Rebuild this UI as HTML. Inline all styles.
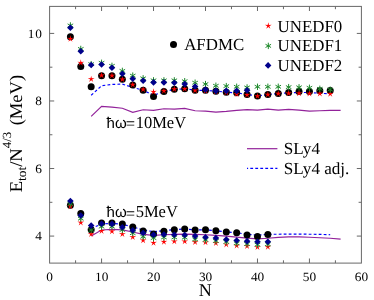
<!DOCTYPE html>
<html><head><meta charset="utf-8"><title>Energy per N^(4/3)</title>
<style>
html,body{margin:0;padding:0;background:#fff;}
body{width:374px;height:300px;overflow:hidden;}
svg{display:block;will-change:transform;}
text{font-family:"Liberation Serif",serif;fill:#000;text-rendering:geometricPrecision;}
</style></head><body>
<svg width="374" height="300" viewBox="0 0 374 300">
<rect width="374" height="300" fill="#fff"/>
<rect x="49.6" y="6.4" width="311.8" height="256.7" fill="none" stroke="#686868" stroke-width="1"/>
<path d="M75.58 263.1v-2.8M75.58 6.4v2.8M101.57 263.1v-4.6M101.57 6.4v4.6M127.55 263.1v-2.8M127.55 6.4v2.8M153.53 263.1v-4.6M153.53 6.4v4.6M179.52 263.1v-2.8M179.52 6.4v2.8M205.5 263.1v-4.6M205.5 6.4v4.6M231.48 263.1v-2.8M231.48 6.4v2.8M257.47 263.1v-4.6M257.47 6.4v4.6M283.45 263.1v-2.8M283.45 6.4v2.8M309.43 263.1v-4.6M309.43 6.4v4.6M335.42 263.1v-2.8M335.42 6.4v2.8M49.6 236.08h4.6M361.4 236.08h-4.6M49.6 202.3h2.8M361.4 202.3h-2.8M49.6 168.53h4.6M361.4 168.53h-4.6M49.6 134.75h2.8M361.4 134.75h-2.8M49.6 100.97h4.6M361.4 100.97h-4.6M49.6 67.2h2.8M361.4 67.2h-2.8M49.6 33.42h4.6M361.4 33.42h-4.6" stroke="#686868" stroke-width="1" fill="none"/>
<polyline points="91.17,116.38 101.57,106.38 111.96,107.15 122.35,108.24 132.75,112.29 143.14,109.76 153.53,110.43 163.93,108.74 174.32,109.08 184.71,108.4 195.11,110.77 205.5,111.11 215.89,112.12 226.29,111.44 236.68,110.43 247.07,109.59 257.47,110.09 267.86,109.08 278.25,110.09 288.65,109.42 299.04,110.09 309.43,111.11 319.83,110.77 330.22,110.43 340.61,110.43" fill="none" stroke="#92229a" stroke-width="1.2"/>
<polyline points="91.17,236.08 101.57,230 111.96,229.32 122.35,229.83 132.75,232.03 143.14,234.39 153.53,235.4 163.93,234.73 174.32,234.39 184.71,234.05 195.11,234.39 205.5,234.73 215.89,235.4 226.29,236.08 236.68,237.09 247.07,238.11 257.47,238.78 267.86,238.27 278.25,237.43 288.65,236.92 299.04,236.92 309.43,237.26 319.83,237.77 330.22,238.27 340.61,239.12" fill="none" stroke="#92229a" stroke-width="1.2"/>
<polyline points="91.17,95.23 101.57,85.77 111.96,84.42 122.35,84.09 132.75,87.46 143.14,90.17 153.53,95.23 163.93,91.52 174.32,89.49 184.71,88.81 195.11,90.17 205.5,90.5 215.89,91.18 226.29,92.19 236.68,92.87 247.07,94.56 257.47,95.91 267.86,94.56 278.25,93.54 288.65,92.87 299.04,92.53 309.43,92.53 319.83,93.21 330.22,93.88" fill="none" stroke="#0000ff" stroke-width="1.15" stroke-dasharray="2.8 2.2"/>
<polyline points="91.17,228.65 101.57,223.92 111.96,223.41 122.35,224.26 132.75,226.96 143.14,230 153.53,231.69 163.93,230.67 174.32,229.66 184.71,228.99 195.11,230 205.5,229.83 215.89,230.67 226.29,232.03 236.68,232.7 247.07,234.39 257.47,235.07 267.86,234.39 278.25,234.22 288.65,234.05 299.04,234.05 309.43,234.22 319.83,234.39 330.22,234.73" fill="none" stroke="#0000ff" stroke-width="1.15" stroke-dasharray="2.8 2.2"/>
<circle cx="70.39" cy="36.8" r="3.5" fill="#000000"/>
<circle cx="80.78" cy="66.52" r="3.5" fill="#000000"/>
<circle cx="91.17" cy="86.79" r="3.5" fill="#000000"/>
<circle cx="101.57" cy="75.64" r="3.5" fill="#000000"/>
<circle cx="111.96" cy="75.64" r="3.5" fill="#000000"/>
<circle cx="122.35" cy="79.36" r="3.5" fill="#000000"/>
<circle cx="132.75" cy="85.1" r="3.5" fill="#000000"/>
<circle cx="143.14" cy="90.17" r="3.5" fill="#000000"/>
<circle cx="153.53" cy="96.41" r="3.5" fill="#000000"/>
<circle cx="163.93" cy="91.52" r="3.5" fill="#000000"/>
<circle cx="174.32" cy="89.15" r="3.5" fill="#000000"/>
<circle cx="184.71" cy="88.81" r="3.5" fill="#000000"/>
<circle cx="195.11" cy="90.17" r="3.5" fill="#000000"/>
<circle cx="205.5" cy="90.17" r="3.5" fill="#000000"/>
<circle cx="215.89" cy="91.18" r="3.5" fill="#000000"/>
<circle cx="226.29" cy="92.19" r="3.5" fill="#000000"/>
<circle cx="236.68" cy="92.87" r="3.5" fill="#000000"/>
<circle cx="247.07" cy="94.56" r="3.5" fill="#000000"/>
<circle cx="257.47" cy="95.91" r="3.5" fill="#000000"/>
<circle cx="267.86" cy="94.56" r="3.5" fill="#000000"/>
<circle cx="278.25" cy="93.54" r="3.5" fill="#000000"/>
<circle cx="288.65" cy="92.53" r="3.5" fill="#000000"/>
<circle cx="299.04" cy="91.52" r="3.5" fill="#000000"/>
<circle cx="309.43" cy="91.52" r="3.5" fill="#000000"/>
<circle cx="319.83" cy="90.84" r="3.5" fill="#000000"/>
<circle cx="330.22" cy="90.5" r="3.5" fill="#000000"/>
<circle cx="70.39" cy="205.34" r="3.5" fill="#000000"/>
<circle cx="80.78" cy="213.45" r="3.5" fill="#000000"/>
<circle cx="91.17" cy="229.76" r="3.5" fill="#000000"/>
<circle cx="101.57" cy="223.08" r="3.5" fill="#000000"/>
<circle cx="111.96" cy="223.08" r="3.5" fill="#000000"/>
<circle cx="122.35" cy="223.92" r="3.5" fill="#000000"/>
<circle cx="132.75" cy="226.96" r="3.5" fill="#000000"/>
<circle cx="143.14" cy="231.01" r="3.5" fill="#000000"/>
<circle cx="153.53" cy="234.05" r="3.5" fill="#000000"/>
<circle cx="163.93" cy="231.35" r="3.5" fill="#000000"/>
<circle cx="174.32" cy="229.66" r="3.5" fill="#000000"/>
<circle cx="184.71" cy="228.99" r="3.5" fill="#000000"/>
<circle cx="195.11" cy="230" r="3.5" fill="#000000"/>
<circle cx="205.5" cy="229.83" r="3.5" fill="#000000"/>
<circle cx="215.89" cy="230.67" r="3.5" fill="#000000"/>
<circle cx="226.29" cy="232.03" r="3.5" fill="#000000"/>
<circle cx="236.68" cy="232.7" r="3.5" fill="#000000"/>
<circle cx="247.07" cy="235.07" r="3.5" fill="#000000"/>
<circle cx="257.47" cy="236.42" r="3.5" fill="#000000"/>
<circle cx="267.86" cy="234.39" r="3.5" fill="#000000"/>
<polygon points="70.39,35.28 71.03,37.94 73.76,37.73 71.43,39.17 72.47,41.7 70.39,39.93 68.3,41.7 69.34,39.17 67.01,37.73 69.74,37.94" fill="#ff0000"/>
<polygon points="80.78,59.26 81.43,61.92 84.16,61.71 81.83,63.15 82.87,65.68 80.78,63.91 78.69,65.68 79.73,63.15 77.4,61.71 80.13,61.92" fill="#ff0000"/>
<polygon points="91.17,75.64 91.82,78.3 94.55,78.09 92.22,79.53 93.26,82.06 91.17,80.29 89.09,82.06 90.13,79.53 87.8,78.09 90.53,78.3" fill="#ff0000"/>
<polygon points="101.57,71.75 102.21,74.41 104.94,74.21 102.61,75.64 103.65,78.18 101.57,76.4 99.48,78.18 100.52,75.64 98.19,74.21 100.92,74.41" fill="#ff0000"/>
<polygon points="111.96,72.09 112.61,74.75 115.34,74.54 113.01,75.98 114.05,78.51 111.96,76.74 109.87,78.51 110.91,75.98 108.58,74.54 111.31,74.75" fill="#ff0000"/>
<polygon points="122.35,75.81 123,78.47 125.73,78.26 123.4,79.7 124.44,82.23 122.35,80.46 120.27,82.23 121.31,79.7 118.98,78.26 121.71,78.47" fill="#ff0000"/>
<polygon points="132.75,81.21 133.39,83.87 136.12,83.66 133.79,85.1 134.83,87.63 132.75,85.86 130.66,87.63 131.7,85.1 129.37,83.66 132.1,83.87" fill="#ff0000"/>
<polygon points="143.14,85.94 143.79,88.6 146.52,88.39 144.19,89.83 145.23,92.36 143.14,90.59 141.05,92.36 142.09,89.83 139.76,88.39 142.49,88.6" fill="#ff0000"/>
<polygon points="153.53,88.3 154.18,90.96 156.91,90.76 154.58,92.19 155.62,94.73 153.53,92.95 151.45,94.73 152.49,92.19 150.16,90.76 152.89,90.96" fill="#ff0000"/>
<polygon points="163.93,87.29 164.57,89.95 167.3,89.74 164.97,91.18 166.01,93.71 163.93,91.94 161.84,93.71 162.88,91.18 160.55,89.74 163.28,89.95" fill="#ff0000"/>
<polygon points="174.32,85.6 174.97,88.26 177.7,88.05 175.37,89.49 176.41,92.02 174.32,90.25 172.23,92.02 173.27,89.49 170.94,88.05 173.67,88.26" fill="#ff0000"/>
<polygon points="184.71,85.26 185.36,87.92 188.09,87.72 185.76,89.15 186.8,91.69 184.71,89.91 182.63,91.69 183.67,89.15 181.34,87.72 184.07,87.92" fill="#ff0000"/>
<polygon points="195.11,86.95 195.75,89.61 198.48,89.41 196.15,90.84 197.19,93.38 195.11,91.6 193.02,93.38 194.06,90.84 191.73,89.41 194.46,89.61" fill="#ff0000"/>
<polygon points="205.5,87.29 206.15,89.95 208.88,89.74 206.55,91.18 207.59,93.71 205.5,91.94 203.41,93.71 204.45,91.18 202.12,89.74 204.85,89.95" fill="#ff0000"/>
<polygon points="215.89,87.97 216.54,90.63 219.27,90.42 216.94,91.86 217.98,94.39 215.89,92.62 213.81,94.39 214.85,91.86 212.52,90.42 215.25,90.63" fill="#ff0000"/>
<polygon points="226.29,88.98 226.93,91.64 229.66,91.43 227.33,92.87 228.37,95.4 226.29,93.63 224.2,95.4 225.24,92.87 222.91,91.43 225.64,91.64" fill="#ff0000"/>
<polygon points="236.68,90.67 237.33,93.33 240.06,93.12 237.73,94.56 238.77,97.09 236.68,95.32 234.59,97.09 235.63,94.56 233.3,93.12 236.03,93.33" fill="#ff0000"/>
<polygon points="247.07,91.34 247.72,94 250.45,93.8 248.12,95.23 249.16,97.77 247.07,95.99 244.99,97.77 246.03,95.23 243.7,93.8 246.43,94" fill="#ff0000"/>
<polygon points="257.47,92.69 258.11,95.36 260.84,95.15 258.51,96.58 259.55,99.12 257.47,97.34 255.38,99.12 256.42,96.58 254.09,95.15 256.82,95.36" fill="#ff0000"/>
<polygon points="267.86,91.01 268.51,93.67 271.24,93.46 268.91,94.9 269.95,97.43 267.86,95.66 265.77,97.43 266.81,94.9 264.48,93.46 267.21,93.67" fill="#ff0000"/>
<polygon points="278.25,90.16 278.9,92.82 281.63,92.61 279.3,94.05 280.34,96.58 278.25,94.81 276.17,96.58 277.21,94.05 274.88,92.61 277.61,92.82" fill="#ff0000"/>
<polygon points="288.65,89.82 289.29,92.48 292.02,92.28 289.69,93.71 290.73,96.25 288.65,94.47 286.56,96.25 287.6,93.71 285.27,92.28 288,92.48" fill="#ff0000"/>
<polygon points="299.04,89.82 299.69,92.48 302.42,92.28 300.09,93.71 301.13,96.25 299.04,94.47 296.95,96.25 297.99,93.71 295.66,92.28 298.39,92.48" fill="#ff0000"/>
<polygon points="309.43,89.99 310.08,92.65 312.81,92.45 310.48,93.88 311.52,96.41 309.43,94.64 307.35,96.41 308.39,93.88 306.06,92.45 308.79,92.65" fill="#ff0000"/>
<polygon points="319.83,89.99 320.47,92.65 323.2,92.45 320.87,93.88 321.91,96.41 319.83,94.64 317.74,96.41 318.78,93.88 316.45,92.45 319.18,92.65" fill="#ff0000"/>
<polygon points="330.22,90.33 330.87,92.99 333.6,92.78 331.27,94.22 332.31,96.75 330.22,94.98 328.13,96.75 329.17,94.22 326.84,92.78 329.57,92.99" fill="#ff0000"/>
<polygon points="70.39,202.81 71.03,205.47 73.76,205.26 71.43,206.7 72.47,209.23 70.39,207.46 68.3,209.23 69.34,206.7 67.01,205.26 69.74,205.47" fill="#ff0000"/>
<polygon points="80.78,219.02 81.43,221.68 84.16,221.47 81.83,222.91 82.87,225.44 80.78,223.67 78.69,225.44 79.73,222.91 77.4,221.47 80.13,221.68" fill="#ff0000"/>
<polygon points="91.17,230.5 91.82,233.16 94.55,232.96 92.22,234.39 93.26,236.92 91.17,235.15 89.09,236.92 90.13,234.39 87.8,232.96 90.53,233.16" fill="#ff0000"/>
<polygon points="101.57,227.46 102.21,230.12 104.94,229.92 102.61,231.35 103.65,233.88 101.57,232.11 99.48,233.88 100.52,231.35 98.19,229.92 100.92,230.12" fill="#ff0000"/>
<polygon points="111.96,227.8 112.61,230.46 115.34,230.25 113.01,231.69 114.05,234.22 111.96,232.45 109.87,234.22 110.91,231.69 108.58,230.25 111.31,230.46" fill="#ff0000"/>
<polygon points="122.35,230.67 123,233.33 125.73,233.12 123.4,234.56 124.44,237.09 122.35,235.32 120.27,237.09 121.31,234.56 118.98,233.12 121.71,233.33" fill="#ff0000"/>
<polygon points="132.75,233.54 133.39,236.2 136.12,236 133.79,237.43 134.83,239.96 132.75,238.19 130.66,239.96 131.7,237.43 129.37,236 132.1,236.2" fill="#ff0000"/>
<polygon points="143.14,236.92 143.79,239.58 146.52,239.37 144.19,240.81 145.23,243.34 143.14,241.57 141.05,243.34 142.09,240.81 139.76,239.37 142.49,239.58" fill="#ff0000"/>
<polygon points="153.53,239.28 154.18,241.94 156.91,241.74 154.58,243.17 155.62,245.71 153.53,243.93 151.45,245.71 152.49,243.17 150.16,241.74 152.89,241.94" fill="#ff0000"/>
<polygon points="163.93,238.27 164.57,240.93 167.3,240.72 164.97,242.16 166.01,244.69 163.93,242.92 161.84,244.69 162.88,242.16 160.55,240.72 163.28,240.93" fill="#ff0000"/>
<polygon points="174.32,237.93 174.97,240.59 177.7,240.39 175.37,241.82 176.41,244.36 174.32,242.58 172.23,244.36 173.27,241.82 170.94,240.39 173.67,240.59" fill="#ff0000"/>
<polygon points="184.71,237.93 185.36,240.59 188.09,240.39 185.76,241.82 186.8,244.36 184.71,242.58 182.63,244.36 183.67,241.82 181.34,240.39 184.07,240.59" fill="#ff0000"/>
<polygon points="195.11,238.61 195.75,241.27 198.48,241.06 196.15,242.5 197.19,245.03 195.11,243.26 193.02,245.03 194.06,242.5 191.73,241.06 194.46,241.27" fill="#ff0000"/>
<polygon points="205.5,238.95 206.15,241.61 208.88,241.4 206.55,242.84 207.59,245.37 205.5,243.6 203.41,245.37 204.45,242.84 202.12,241.4 204.85,241.61" fill="#ff0000"/>
<polygon points="215.89,239.62 216.54,242.28 219.27,242.07 216.94,243.51 217.98,246.04 215.89,244.27 213.81,246.04 214.85,243.51 212.52,242.07 215.25,242.28" fill="#ff0000"/>
<polygon points="226.29,240.97 226.93,243.63 229.66,243.43 227.33,244.86 228.37,247.4 226.29,245.62 224.2,247.4 225.24,244.86 222.91,243.43 225.64,243.63" fill="#ff0000"/>
<polygon points="236.68,241.99 237.33,244.65 240.06,244.44 237.73,245.88 238.77,248.41 236.68,246.64 234.59,248.41 235.63,245.88 233.3,244.44 236.03,244.65" fill="#ff0000"/>
<polygon points="247.07,242.66 247.72,245.32 250.45,245.11 248.12,246.55 249.16,249.08 247.07,247.31 244.99,249.08 246.03,246.55 243.7,245.11 246.43,245.32" fill="#ff0000"/>
<polygon points="257.47,243.68 258.11,246.34 260.84,246.13 258.51,247.57 259.55,250.1 257.47,248.33 255.38,250.1 256.42,247.57 254.09,246.13 256.82,246.34" fill="#ff0000"/>
<polygon points="267.86,243.34 268.51,246 271.24,245.79 268.91,247.23 269.95,249.76 267.86,247.99 265.77,249.76 266.81,247.23 264.48,245.79 267.21,246" fill="#ff0000"/>
<path d="M70.39 22.28L70.39 28.68M67.62 23.88L73.16 27.08M73.16 23.88L67.62 27.08" stroke="#1f8a2c" stroke-width="1.0" fill="none"/>
<path d="M80.78 45.76L80.78 52.16M78.01 47.36L83.55 50.56M83.55 47.36L78.01 50.56" stroke="#1f8a2c" stroke-width="1.0" fill="none"/>
<path d="M91.17 60.96L91.17 67.36M88.4 62.56L93.94 65.76M93.94 62.56L88.4 65.76" stroke="#1f8a2c" stroke-width="1.0" fill="none"/>
<path d="M101.57 59.61L101.57 66.01M98.8 61.21L104.34 64.41M104.34 61.21L98.8 64.41" stroke="#1f8a2c" stroke-width="1.0" fill="none"/>
<path d="M111.96 62.65L111.96 69.05M109.19 64.25L114.73 67.45M114.73 64.25L109.19 67.45" stroke="#1f8a2c" stroke-width="1.0" fill="none"/>
<path d="M122.35 67.71L122.35 74.11M119.58 69.31L125.12 72.51M125.12 69.31L119.58 72.51" stroke="#1f8a2c" stroke-width="1.0" fill="none"/>
<path d="M132.75 72.44L132.75 78.84M129.98 74.04L135.52 77.24M135.52 74.04L129.98 77.24" stroke="#1f8a2c" stroke-width="1.0" fill="none"/>
<path d="M143.14 75.14L143.14 81.54M140.37 76.74L145.91 79.94M145.91 76.74L140.37 79.94" stroke="#1f8a2c" stroke-width="1.0" fill="none"/>
<path d="M153.53 77.17L153.53 83.57M150.76 78.77L156.3 81.97M156.3 78.77L150.76 81.97" stroke="#1f8a2c" stroke-width="1.0" fill="none"/>
<path d="M163.93 77.17L163.93 83.57M161.16 78.77L166.7 81.97M166.7 78.77L161.16 81.97" stroke="#1f8a2c" stroke-width="1.0" fill="none"/>
<path d="M174.32 77.17L174.32 83.57M171.55 78.77L177.09 81.97M177.09 78.77L171.55 81.97" stroke="#1f8a2c" stroke-width="1.0" fill="none"/>
<path d="M184.71 78.01L184.71 84.41M181.94 79.61L187.48 82.81M187.48 79.61L181.94 82.81" stroke="#1f8a2c" stroke-width="1.0" fill="none"/>
<path d="M195.11 79.53L195.11 85.93M192.34 81.13L197.88 84.33M197.88 81.13L192.34 84.33" stroke="#1f8a2c" stroke-width="1.0" fill="none"/>
<path d="M205.5 80.89L205.5 87.29M202.73 82.49L208.27 85.69M208.27 82.49L202.73 85.69" stroke="#1f8a2c" stroke-width="1.0" fill="none"/>
<path d="M215.89 82.57L215.89 88.97M213.12 84.17L218.66 87.37M218.66 84.17L213.12 87.37" stroke="#1f8a2c" stroke-width="1.0" fill="none"/>
<path d="M226.29 82.91L226.29 89.31M223.52 84.51L229.06 87.71M229.06 84.51L223.52 87.71" stroke="#1f8a2c" stroke-width="1.0" fill="none"/>
<path d="M236.68 83.59L236.68 89.99M233.91 85.19L239.45 88.39M239.45 85.19L233.91 88.39" stroke="#1f8a2c" stroke-width="1.0" fill="none"/>
<path d="M247.07 84.26L247.07 90.66M244.3 85.86L249.84 89.06M249.84 85.86L244.3 89.06" stroke="#1f8a2c" stroke-width="1.0" fill="none"/>
<path d="M257.47 83.59L257.47 89.99M254.7 85.19L260.24 88.39M260.24 85.19L254.7 88.39" stroke="#1f8a2c" stroke-width="1.0" fill="none"/>
<path d="M267.86 83.59L267.86 89.99M265.09 85.19L270.63 88.39M270.63 85.19L265.09 88.39" stroke="#1f8a2c" stroke-width="1.0" fill="none"/>
<path d="M278.25 83.59L278.25 89.99M275.48 85.19L281.02 88.39M281.02 85.19L275.48 88.39" stroke="#1f8a2c" stroke-width="1.0" fill="none"/>
<path d="M288.65 83.93L288.65 90.33M285.88 85.53L291.42 88.73M291.42 85.53L285.88 88.73" stroke="#1f8a2c" stroke-width="1.0" fill="none"/>
<path d="M299.04 84.09L299.04 90.49M296.27 85.69L301.81 88.89M301.81 85.69L296.27 88.89" stroke="#1f8a2c" stroke-width="1.0" fill="none"/>
<path d="M309.43 84.6L309.43 91M306.66 86.2L312.2 89.4M312.2 86.2L306.66 89.4" stroke="#1f8a2c" stroke-width="1.0" fill="none"/>
<path d="M319.83 85.61L319.83 92.01M317.06 87.21L322.6 90.41M322.6 87.21L317.06 90.41" stroke="#1f8a2c" stroke-width="1.0" fill="none"/>
<path d="M330.22 86.46L330.22 92.86M327.45 88.06L332.99 91.26M332.99 88.06L327.45 91.26" stroke="#1f8a2c" stroke-width="1.0" fill="none"/>
<path d="M70.39 200.79L70.39 207.19M67.62 202.39L73.16 205.59M73.16 202.39L67.62 205.59" stroke="#1f8a2c" stroke-width="1.0" fill="none"/>
<path d="M80.78 215.48L80.78 221.88M78.01 217.08L83.55 220.28M83.55 217.08L78.01 220.28" stroke="#1f8a2c" stroke-width="1.0" fill="none"/>
<path d="M91.17 226.8L91.17 233.2M88.4 228.4L93.94 231.6M93.94 228.4L88.4 231.6" stroke="#1f8a2c" stroke-width="1.0" fill="none"/>
<path d="M101.57 223.42L101.57 229.82M98.8 225.02L104.34 228.22M104.34 225.02L98.8 228.22" stroke="#1f8a2c" stroke-width="1.0" fill="none"/>
<path d="M111.96 223.42L111.96 229.82M109.19 225.02L114.73 228.22M114.73 225.02L109.19 228.22" stroke="#1f8a2c" stroke-width="1.0" fill="none"/>
<path d="M122.35 226.8L122.35 233.2M119.58 228.4L125.12 231.6M125.12 228.4L119.58 231.6" stroke="#1f8a2c" stroke-width="1.0" fill="none"/>
<path d="M132.75 230.01L132.75 236.41M129.98 231.61L135.52 234.81M135.52 231.61L129.98 234.81" stroke="#1f8a2c" stroke-width="1.0" fill="none"/>
<path d="M143.14 233.55L143.14 239.95M140.37 235.15L145.91 238.35M145.91 235.15L140.37 238.35" stroke="#1f8a2c" stroke-width="1.0" fill="none"/>
<path d="M153.53 234.91L153.53 241.31M150.76 236.51L156.3 239.71M156.3 236.51L150.76 239.71" stroke="#1f8a2c" stroke-width="1.0" fill="none"/>
<path d="M163.93 234.23L163.93 240.63M161.16 235.83L166.7 239.03M166.7 235.83L161.16 239.03" stroke="#1f8a2c" stroke-width="1.0" fill="none"/>
<path d="M174.32 234.23L174.32 240.63M171.55 235.83L177.09 239.03M177.09 235.83L171.55 239.03" stroke="#1f8a2c" stroke-width="1.0" fill="none"/>
<path d="M184.71 234.4L184.71 240.8M181.94 236L187.48 239.2M187.48 236L181.94 239.2" stroke="#1f8a2c" stroke-width="1.0" fill="none"/>
<path d="M195.11 236.09L195.11 242.49M192.34 237.69L197.88 240.89M197.88 237.69L192.34 240.89" stroke="#1f8a2c" stroke-width="1.0" fill="none"/>
<path d="M205.5 236.76L205.5 243.16M202.73 238.36L208.27 241.56M208.27 238.36L202.73 241.56" stroke="#1f8a2c" stroke-width="1.0" fill="none"/>
<path d="M215.89 237.78L215.89 244.18M213.12 239.38L218.66 242.58M218.66 239.38L213.12 242.58" stroke="#1f8a2c" stroke-width="1.0" fill="none"/>
<path d="M226.29 238.79L226.29 245.19M223.52 240.39L229.06 243.59M229.06 240.39L223.52 243.59" stroke="#1f8a2c" stroke-width="1.0" fill="none"/>
<path d="M236.68 240.14L236.68 246.54M233.91 241.74L239.45 244.94M239.45 241.74L233.91 244.94" stroke="#1f8a2c" stroke-width="1.0" fill="none"/>
<path d="M247.07 240.82L247.07 247.22M244.3 242.42L249.84 245.62M249.84 242.42L244.3 245.62" stroke="#1f8a2c" stroke-width="1.0" fill="none"/>
<path d="M257.47 241.49L257.47 247.89M254.7 243.09L260.24 246.29M260.24 243.09L254.7 246.29" stroke="#1f8a2c" stroke-width="1.0" fill="none"/>
<path d="M267.86 240.99L267.86 247.39M265.09 242.59L270.63 245.79M270.63 242.59L265.09 245.79" stroke="#1f8a2c" stroke-width="1.0" fill="none"/>
<polygon points="70.39,24.38 73.69,27.68 70.39,30.98 67.09,27.68" fill="#00008b"/>
<polygon points="80.78,48.02 84.08,51.32 80.78,54.62 77.48,51.32" fill="#00008b"/>
<polygon points="91.17,61.7 94.47,65 91.17,68.3 87.87,65" fill="#00008b"/>
<polygon points="101.57,61.2 104.87,64.5 101.57,67.8 98.27,64.5" fill="#00008b"/>
<polygon points="111.96,64.4 115.26,67.7 111.96,71 108.66,67.7" fill="#00008b"/>
<polygon points="122.35,70.48 125.65,73.78 122.35,77.08 119.05,73.78" fill="#00008b"/>
<polygon points="132.75,75.38 136.05,78.68 132.75,81.98 129.45,78.68" fill="#00008b"/>
<polygon points="143.14,77.41 146.44,80.71 143.14,84.01 139.84,80.71" fill="#00008b"/>
<polygon points="153.53,79.1 156.83,82.4 153.53,85.7 150.23,82.4" fill="#00008b"/>
<polygon points="163.93,79.1 167.23,82.4 163.93,85.7 160.63,82.4" fill="#00008b"/>
<polygon points="174.32,79.43 177.62,82.73 174.32,86.03 171.02,82.73" fill="#00008b"/>
<polygon points="184.71,80.79 188.01,84.09 184.71,87.39 181.41,84.09" fill="#00008b"/>
<polygon points="195.11,83.15 198.41,86.45 195.11,89.75 191.81,86.45" fill="#00008b"/>
<polygon points="205.5,86.19 208.8,89.49 205.5,92.79 202.2,89.49" fill="#00008b"/>
<polygon points="215.89,87.54 219.19,90.84 215.89,94.14 212.59,90.84" fill="#00008b"/>
<polygon points="226.29,87.54 229.59,90.84 226.29,94.14 222.99,90.84" fill="#00008b"/>
<polygon points="236.68,87.54 239.98,90.84 236.68,94.14 233.38,90.84" fill="#00008b"/>
<polygon points="247.07,87.03 250.37,90.33 247.07,93.63 243.77,90.33" fill="#00008b"/>
<polygon points="70.39,197.65 73.69,200.95 70.39,204.25 67.09,200.95" fill="#00008b"/>
<polygon points="80.78,212.18 84.08,215.48 80.78,218.78 77.48,215.48" fill="#00008b"/>
<polygon points="91.17,222.31 94.47,225.61 91.17,228.91 87.87,225.61" fill="#00008b"/>
<polygon points="101.57,220.45 104.87,223.75 101.57,227.05 98.27,223.75" fill="#00008b"/>
<polygon points="111.96,220.62 115.26,223.92 111.96,227.22 108.66,223.92" fill="#00008b"/>
<polygon points="122.35,224 125.65,227.3 122.35,230.6 119.05,227.3" fill="#00008b"/>
<polygon points="132.75,227.04 136.05,230.34 132.75,233.64 129.45,230.34" fill="#00008b"/>
<polygon points="143.14,229.74 146.44,233.04 143.14,236.34 139.84,233.04" fill="#00008b"/>
<polygon points="153.53,231.43 156.83,234.73 153.53,238.03 150.23,234.73" fill="#00008b"/>
<polygon points="163.93,231.26 167.23,234.56 163.93,237.86 160.63,234.56" fill="#00008b"/>
<polygon points="174.32,231.43 177.62,234.73 174.32,238.03 171.02,234.73" fill="#00008b"/>
<polygon points="184.71,231.77 188.01,235.07 184.71,238.37 181.41,235.07" fill="#00008b"/>
<polygon points="195.11,232.78 198.41,236.08 195.11,239.38 191.81,236.08" fill="#00008b"/>
<polygon points="205.5,233.96 208.8,237.26 205.5,240.56 202.2,237.26" fill="#00008b"/>
<polygon points="215.89,234.81 219.19,238.11 215.89,241.41 212.59,238.11" fill="#00008b"/>
<polygon points="226.29,236.16 229.59,239.46 226.29,242.76 222.99,239.46" fill="#00008b"/>
<polygon points="236.68,237.17 239.98,240.47 236.68,243.77 233.38,240.47" fill="#00008b"/>
<polygon points="247.07,237.85 250.37,241.15 247.07,244.45 243.77,241.15" fill="#00008b"/>
<polygon points="257.47,238.52 260.77,241.82 257.47,245.12 254.17,241.82" fill="#00008b"/>
<polygon points="267.86,238.52 271.16,241.82 267.86,245.12 264.56,241.82" fill="#00008b"/>
<circle cx="173.5" cy="44.6" r="3.5" fill="#000000"/>
<polygon points="268.3,22.25 268.95,24.91 271.68,24.7 269.35,26.14 270.39,28.67 268.3,26.9 266.21,28.67 267.25,26.14 264.92,24.7 267.65,24.91" fill="#ff0000"/>
<path d="M268.3 42.7L268.3 49.1M265.53 44.3L271.07 47.5M271.07 44.3L265.53 47.5" stroke="#1f8a2c" stroke-width="1.0" fill="none"/>
<polygon points="268.1,62.1 271.4,65.4 268.1,68.7 264.8,65.4" fill="#00008b"/>
<path d="M247 148.7H277.4" stroke="#92229a" stroke-width="1.2"/>
<path d="M247 168.4H277.4" stroke="#0000ff" stroke-width="1.15" stroke-dasharray="2.8 2.2" stroke-dashoffset="1.7"/>
<text transform="translate(41.9 240.38) scale(1.05 1)" font-size="12.7" text-anchor="end">4</text>
<text transform="translate(41.9 172.83) scale(1.05 1)" font-size="12.7" text-anchor="end">6</text>
<text transform="translate(41.9 105.27) scale(1.05 1)" font-size="12.7" text-anchor="end">8</text>
<text transform="translate(41.9 37.72) scale(1.05 1)" font-size="12.7" text-anchor="end"><tspan letter-spacing="0.7">1</tspan>0</text>
<text transform="translate(49.7 280.9) scale(1.05 1)" font-size="12.7" text-anchor="middle">0</text>
<text transform="translate(101.67 280.9) scale(1.05 1)" font-size="12.7" text-anchor="middle">10</text>
<text transform="translate(153.63 280.9) scale(1.05 1)" font-size="12.7" text-anchor="middle">20</text>
<text transform="translate(205.6 280.9) scale(1.05 1)" font-size="12.7" text-anchor="middle">30</text>
<text transform="translate(257.57 280.9) scale(1.05 1)" font-size="12.7" text-anchor="middle">40</text>
<text transform="translate(309.53 280.9) scale(1.05 1)" font-size="12.7" text-anchor="middle">50</text>
<text transform="translate(361.5 280.9) scale(1.05 1)" font-size="12.7" text-anchor="middle">60</text>
<text transform="translate(205.3 296.4) scale(1.0 1)" font-size="18" text-anchor="middle">N</text>
<text transform="translate(184.2 49.6) scale(0.998 1)" font-size="16.9" text-anchor="start">AFDMC</text>
<text transform="translate(277.6 31.5) scale(0.998 1)" font-size="16.9" text-anchor="start">UNEDF0</text>
<text transform="translate(277.6 51.3) scale(0.998 1)" font-size="16.9" text-anchor="start">UNEDF1</text>
<text transform="translate(277.6 70.9) scale(0.998 1)" font-size="16.9" text-anchor="start">UNEDF2</text>
<text transform="translate(283.8 154.1) scale(1.013 1)" font-size="16.9" text-anchor="start">SLy4</text>
<text transform="translate(283.8 174.4) scale(1.013 1)" font-size="16.9" text-anchor="start">SLy4 adj.</text>
<text transform="translate(106.6 127.5) scale(0.978 1)" font-size="16.9" text-anchor="start"><tspan font-family="Liberation Sans, sans-serif" font-size="15.4">ħω</tspan><tspan dx="-0.9" dy="1.4">=</tspan><tspan dx="0.5" dy="-1.4">10MeV</tspan></text>
<text transform="translate(106.6 217.4) scale(0.978 1)" font-size="16.9" text-anchor="start"><tspan font-family="Liberation Sans, sans-serif" font-size="15.4">ħω</tspan><tspan dx="-0.9" dy="1.4">=</tspan><tspan dx="0.5" dy="-1.4">5MeV</tspan></text>
<text transform="translate(22.2 192.3) rotate(-90) scale(1.03 1)" font-size="18">E<tspan font-size="13" dy="4">tot</tspan><tspan dy="-4">/N</tspan><tspan font-size="12.5" dy="-11">4/3</tspan><tspan dy="11" dx="1.8"> (MeV)</tspan></text>
</svg>
</body></html>
